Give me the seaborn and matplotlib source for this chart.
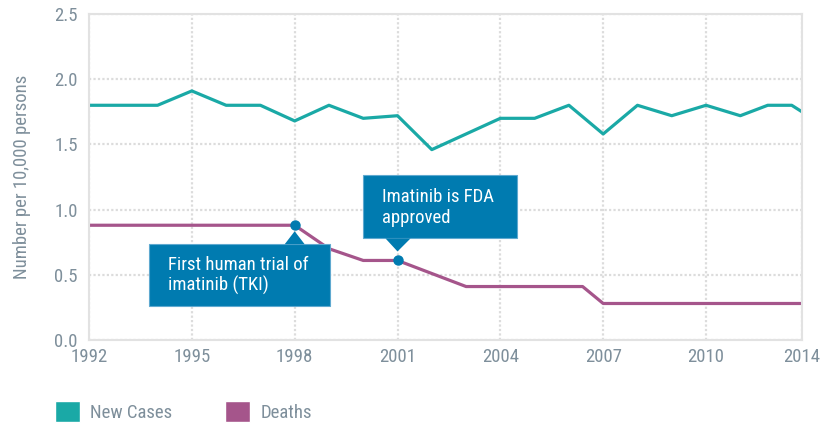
import matplotlib
matplotlib.use("Agg")
import matplotlib.pyplot as plt
import matplotlib.transforms as mtransforms
from matplotlib.patches import Patch, Rectangle, Polygon
import pandas as pd
import seaborn as sns

# ── data ────────────────────────────────────────────────────
case_years = [1992, 1993, 1994, 1995, 1996, 1997, 1998, 1999, 2000, 2001,
              2002, 2003, 2004, 2005, 2006, 2007, 2008, 2009, 2010, 2011,
              2011.8, 2012.5, 2012.8]
new_cases = [1.80, 1.80, 1.80, 1.91, 1.80, 1.80, 1.68, 1.80, 1.70, 1.72,
             1.46, 1.58, 1.70, 1.70, 1.80, 1.58, 1.80, 1.72, 1.80, 1.72,
             1.80, 1.80, 1.75]

death_years = [1992, 1998, 1999, 2000, 2001, 2003, 2006.4, 2007, 2012.8]
deaths = [0.88, 0.88, 0.70, 0.61, 0.61, 0.41, 0.41, 0.28, 0.28]

x_ticks = [1992, 1995, 1998, 2001, 2004, 2007, 2010, 2012.8]
x_tick_labels = ["1992", "1995", "1998", "2001", "2004", "2007", "2010", "2014"]
y_ticks = [0.0, 0.5, 1.0, 1.5, 2.0, 2.5]

events = [(1998, 0.88, "First human trial of\nimatinib (TKI)"),
          (2001, 0.61, "Imatinib is FDA\napproved")]

# ── style ───────────────────────────────────────────────────
TEAL = "#1AA9A6"
PURPLE = "#A5558B"
BOX = "#007BB0"
GREY_TXT = "#7E8F9B"
GRID = "#DCDCDC"
FS = 13.5

sns.set_style("white")
plt.rcParams["font.family"] = ["Roboto Condensed", "Roboto", "DejaVu Sans"]

df = pd.concat([
    pd.DataFrame({"year": case_years, "value": new_cases, "series": "New Cases"}),
    pd.DataFrame({"year": death_years, "value": deaths, "series": "Deaths"}),
])

fig = plt.figure(figsize=(8.32, 4.23), dpi=100)
ax = fig.add_axes([89 / 832, 83 / 423, 713 / 832, 326 / 423])

sns.lineplot(data=df, x="year", y="value", hue="series",
             palette={"New Cases": TEAL, "Deaths": PURPLE},
             linewidth=2.3, legend=False, ax=ax, sort=False)

ax.set_xlim(1992, 2012.8)
ax.set_ylim(0, 2.5)
ax.set_xticks(x_ticks)
ax.set_xticklabels(x_tick_labels)
ax.set_yticks(y_ticks)
ax.set_yticklabels([f"{v:.1f}" for v in y_ticks])
ax.tick_params(length=0, labelsize=FS, labelcolor=GREY_TXT)
ax.tick_params(axis="y", pad=8)
ax.tick_params(axis="x", pad=6)
ax.set_xlabel("")
ax.set_ylabel("Number per 10,000 persons", fontsize=FS, color=GREY_TXT,
              labelpad=17)

ax.grid(True, color=GRID, linestyle=(0, (1, 1)), linewidth=1.6)
ax.set_axisbelow(True)
for sp in ax.spines.values():
    sp.set_color("#E2E2E2")
    sp.set_linewidth(1.5)

# ── callouts (box geometry in pixels relative to the event point) ──
boxes = [
    dict(box=(-146, 35, -81, -19), tri=(-10, 10, -19, -6), txt=(-127, -50)),
    dict(box=(-35, 119, 22, 85), tri=(-12, 13, 22, 9), txt=(-16, 53)),
]
for (ex, ey, label), b in zip(events, boxes):
    tr = fig.dpi_scale_trans + mtransforms.ScaledTranslation(ex, ey, ax.transData)
    s = 1 / 100
    x0, x1, y0, y1 = b["box"]
    ax.add_patch(Rectangle((x0 * s, y0 * s), (x1 - x0) * s, (y1 - y0) * s,
                           transform=tr, facecolor=BOX, edgecolor="#5FA9D0",
                           linewidth=0.8, zorder=5, clip_on=False))
    tl, tr_, tb, ta = b["tri"]
    ax.add_patch(Polygon([(tl * s, tb * s), (tr_ * s, tb * s), (0, ta * s)],
                         transform=tr, facecolor=BOX, edgecolor="none",
                         zorder=5, clip_on=False))
    ax.text(b["txt"][0] * s, b["txt"][1] * s, label, transform=tr,
            color="white", fontsize=FS, va="center", ha="left",
            linespacing=1.15, zorder=6)
    ax.plot([ex], [ey], "o", color=BOX, markersize=6.5, zorder=7, clip_on=False)

# ── legend with square swatches ─────────────────────────────
handles = [Patch(facecolor=TEAL, label="New Cases"),
           Patch(facecolor=PURPLE, label="Deaths")]
leg = fig.legend(handles=handles, loc="lower left",
                 bbox_to_anchor=(55 / 832, 1 / 423), ncol=2, frameon=False,
                 handlelength=1.33, handleheight=1.33, handletextpad=0.55,
                 columnspacing=2.8, borderpad=0, borderaxespad=0,
                 fontsize=FS)
for t in leg.get_texts():
    t.set_color(GREY_TXT)

fig.savefig("out.png", dpi=100)
